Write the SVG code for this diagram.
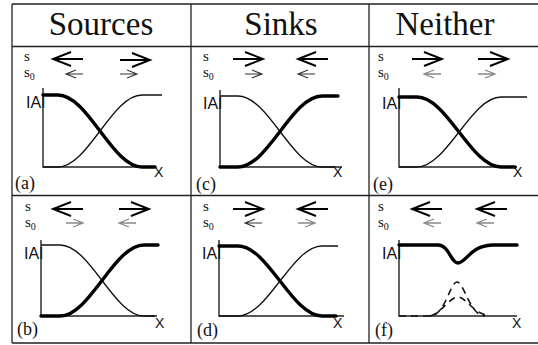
<svg xmlns="http://www.w3.org/2000/svg" width="538" height="345" viewBox="0 0 538 345">
<style>
.grid{stroke:#222;stroke-width:1.3;fill:none}
.hdr{font-family:"Liberation Serif",serif;font-size:33px;text-anchor:middle;fill:#111}
.sl{font-family:"Liberation Serif",serif;font-size:15px;fill:#111}
.sub{font-size:10px}
.al{font-family:"Liberation Sans",sans-serif;font-size:16px;fill:#111}
.xl{font-family:"Liberation Sans",sans-serif;font-size:14px;fill:#111}
.pl{font-family:"Liberation Serif",serif;font-size:18px;fill:#111}
.axis{stroke:#222;stroke-width:1.4;fill:none}
.thick{stroke:#000;stroke-width:3.4;fill:none;stroke-linecap:round}
.thin{stroke:#111;stroke-width:1.3;fill:none}
.dash{stroke:#111;stroke-width:1.6;fill:none;stroke-dasharray:7 5}
.big{stroke:#000;stroke-width:1.9;fill:none}
.sm{stroke:#333;stroke-width:1.1;fill:none}
.smg{stroke:#888;stroke-width:1.3;fill:none}
</style>
<defs>
<path id="aR" d="M0,0 H30 M12,-7 L30,0 L12,7"/>
<path id="aL" d="M0,0 H30 M18,-7 L0,0 L18,7"/>
<path id="bR" d="M0,0 H17 M7,-4 L17,0 L7,4"/>
<path id="bL" d="M0,0 H17 M10,-4 L0,0 L10,4"/>
</defs>
<rect width="538" height="345" fill="#fff"/>
<g id="table" class="grid">
<path d="M12,4 H538 M12,46.5 H538 M12,195.5 H538 M12,343 H538 M12,4 V343 M191,4 V343 M369,4 V343"/>
</g>
<g id="headers">
<text class="hdr" x="101" y="35">Sources</text>
<text class="hdr" x="281" y="35">Sinks</text>
<text class="hdr" x="445" y="35">Neither</text>
</g>

<g id="panel-a">
<text class="sl" x="24" y="61">s</text>
<text class="sl" x="24" y="77">s<tspan class="sub" dy="3">0</tspan></text>
<use href="#aL" x="53" y="59" class="big"/>
<use href="#aR" x="120" y="60" class="big"/>
<use href="#bL" x="66" y="74" class="sm"/>
<use href="#bR" x="120" y="74" class="sm"/>
<text class="al" x="26" y="108">IAI</text>
<path class="axis" d="M43,88 V167 H155"/>
<path class="thick" d="M43,95 H58 C88,95 112,167 142,167 H155"/>
<path class="thin" d="M43,167 H58 C88,167 112,95 142,95 H162"/>
<text class="xl" x="154" y="177">X</text>
<text class="pl" x="15" y="189">(a)</text>
</g>

<g id="panel-c">
<text class="sl" x="203" y="61">s</text>
<text class="sl" x="203" y="77">s<tspan class="sub" dy="3">0</tspan></text>
<use href="#aR" x="233" y="59" class="big"/>
<use href="#aL" x="298" y="59" class="big"/>
<use href="#bR" x="245" y="74" class="sm"/>
<use href="#bL" x="298" y="74" class="sm"/>
<text class="al" x="203" y="109">IAI</text>
<path class="axis" d="M220,90 V167 H342"/>
<path class="thin" d="M220,96 H238 C268,96 292,167 322,167 H335"/>
<path class="thick" d="M220,167 H238 C268,167 292,96 322,96 H338"/>
<text class="xl" x="333" y="177">X</text>
<text class="pl" x="196" y="190">(c)</text>
</g>

<g id="panel-e">
<text class="sl" x="378" y="61">s</text>
<text class="sl" x="378" y="77">s<tspan class="sub" dy="3">0</tspan></text>
<use href="#aR" x="412" y="59" class="big"/>
<use href="#aR" x="478" y="59" class="big"/>
<use href="#bL" x="424" y="74" class="smg"/>
<use href="#bR" x="478" y="74" class="smg"/>
<text class="al" x="382" y="109">IAI</text>
<path class="axis" d="M399,88 V167 H517"/>
<path class="thick" d="M399,97 H417 C447,97 471,167 501,167 H515"/>
<path class="thin" d="M399,167 H417 C447,167 471,97 501,97 H527"/>
<text class="xl" x="513" y="177">X</text>
<text class="pl" x="373" y="190">(e)</text>
</g>

<g id="panel-b">
<text class="sl" x="25" y="211">s</text>
<text class="sl" x="25" y="227">s<tspan class="sub" dy="3">0</tspan></text>
<use href="#aL" x="53" y="209" class="big"/>
<use href="#aR" x="119" y="209" class="big"/>
<use href="#bR" x="66" y="223" class="smg"/>
<use href="#bL" x="119" y="223" class="smg"/>
<text class="al" x="24" y="259">IAI</text>
<path class="axis" d="M41,240 V316 H157"/>
<path class="thin" d="M41,245 H60 C90,245 114,316 144,316 H155"/>
<path class="thick" d="M41,316 H60 C90,316 114,245 144,245 H158"/>
<text class="xl" x="155" y="328">X</text>
<text class="pl" x="17" y="335">(b)</text>
</g>

<g id="panel-d">
<text class="sl" x="203" y="211">s</text>
<text class="sl" x="203" y="227">s<tspan class="sub" dy="3">0</tspan></text>
<use href="#aR" x="233" y="209" class="big"/>
<use href="#aL" x="298" y="209" class="big"/>
<use href="#bL" x="245" y="223" class="sm"/>
<use href="#bR" x="298" y="223" class="smg"/>
<text class="al" x="202" y="259">IAI</text>
<path class="axis" d="M219,240 V316 H344"/>
<path class="thick" d="M219,246 H238 C268,246 292,316 322,316 H336"/>
<path class="thin" d="M219,316 H238 C268,316 292,246 322,246 H338"/>
<text class="xl" x="333" y="328">X</text>
<text class="pl" x="197" y="336">(d)</text>
</g>

<g id="panel-f">
<text class="sl" x="378" y="211">s</text>
<text class="sl" x="378" y="227">s<tspan class="sub" dy="3">0</tspan></text>
<use href="#aL" x="412" y="209" class="big"/>
<use href="#aL" x="477" y="209" class="big"/>
<use href="#bL" x="424" y="223" class="smg"/>
<use href="#bL" x="477" y="223" class="smg"/>
<text class="al" x="382" y="259">IAI</text>
<path class="axis" d="M399,240 V316 H517"/>
<path class="thick" d="M399,245 H438 C449,245 451,263 458,263 C466,263 470,246 492,245 H517"/>
<path class="dash" d="M399,316 H430 C445,316 450,282 457,282 C464,282 470,316 485,316"/>
<path class="dash" d="M430,316 C440,314 450,297 458,297 C466,297 472,313 490,316"/>
<text class="xl" x="512" y="328">X</text>
<text class="pl" x="375" y="336">(f)</text>
</g>
</svg>
